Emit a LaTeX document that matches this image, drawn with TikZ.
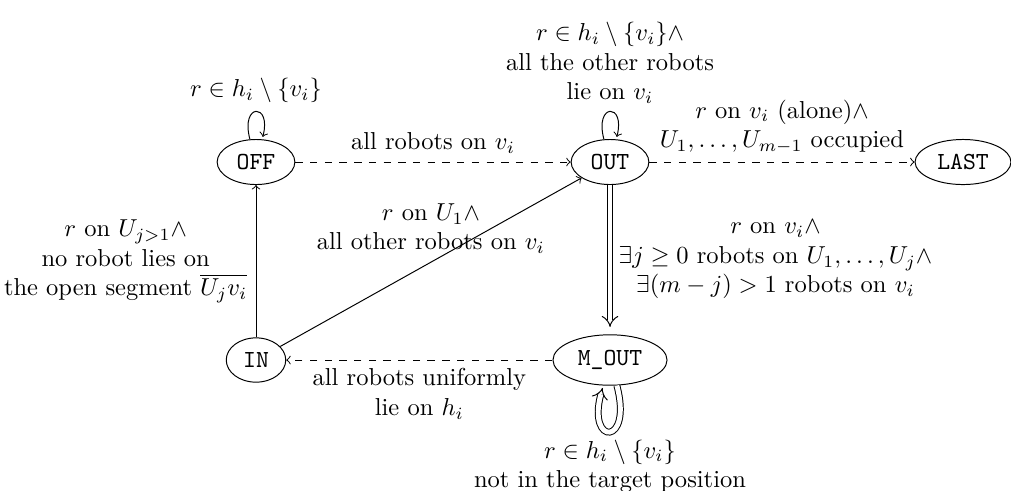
\documentclass[tikz,border=0pt]{standalone}
\usetikzlibrary{shapes.geometric,arrows.meta}
\begin{document}
\begin{tikzpicture}[x=0.408pt,y=-0.408pt,
  state/.style={ellipse, draw, font=\ttfamily},
  lab/.style={align=center},
  imp/.style={double, double distance=2pt, -{Implies[scale=1.5]}},
  >=to]
\useasboundingbox (0,0) rectangle (1011,490);
\node[state] (OFF) at (256,162) {OFF};
\node[state] (OUT) at (610,162) {OUT};
\node[state] (LAST) at (963,162) {LAST};
\node[state] (IN) at (256,360) {IN};
\node[state] (MOUT) at (610,360) {M\_OUT};

\path[->] (OFF) edge[loop above] node[above] (lOFF) {$r\in h_i\setminus\{v_i\}$} (OFF);
\draw[->, dashed] (OFF) -- node[above] (lOFFOUT) {all robots on $v_i$} (OUT);
\path[->] (OUT) edge[loop above] node[above, lab] (lOUT) {$r\in h_i\setminus\{v_i\}\wedge$\\ all the other robots\\ lie on $v_i$} (OUT);
\draw[->, dashed] (OUT) -- node[above, lab] (lOUTLAST) {$r$ on $v_i$ (alone)$\wedge$\\ $U_1,\dots,U_{m-1}$ occupied} (LAST);
\draw[imp, shorten >=3pt] (OUT) -- node[right, lab] (lOUTMOUT) {$r$ on $v_i\wedge$\\ $\exists j\geq 0$ robots on $U_1,\dots,U_j\wedge$\\ $\exists(m-j)>1$ robots on $v_i$} (MOUT);
\draw[->, dashed] (MOUT) -- node[below, lab] (lMOUTIN) {all robots uniformly\\ lie on $h_i$} (IN);
\draw[imp, shorten >=1pt] (MOUT) to[out=-75, in=-105, min distance=9mm, looseness=8] node[below, lab] (lMOUT) {$r\in h_i\setminus\{v_i\}$\\ not in the target position} (MOUT);
\draw[->] (IN) -- node[left, lab] (lINOFF) {$r$ on $U_{j>1}\wedge$\\ no robot lies on\\ the open segment $\overline{U_jv_i}$} (OFF);
\draw[->] (IN) -- node[above, lab] (lINOUT) {$r$ on $U_1\wedge$\\ all other robots on $v_i$} (OUT);
\end{tikzpicture}
\end{document}
